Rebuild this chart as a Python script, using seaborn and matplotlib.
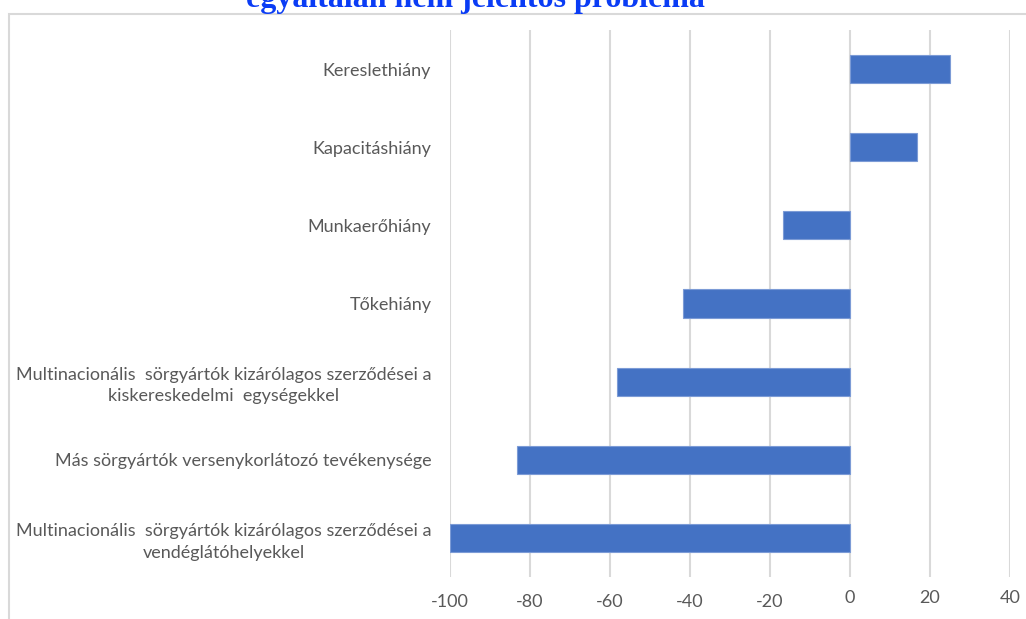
import numpy as np
import pandas as pd
import seaborn as sns
import matplotlib.pyplot as plt
from matplotlib.patches import Rectangle

categories = [
    "Kereslethiány",
    "Kapacitáshiány",
    "Munkaerőhiány",
    "Tőkehiány",
    "Multinacionális  sörgyártók kizárólagos szerződései a\nkiskereskedelmi  egységekkel",
    "Más sörgyártók versenykorlátozó tevékenysége",
    "Multinacionális  sörgyártók kizárólagos szerződései a\nvendéglátóhelyekkel",
]
values = [25.0, 16.7, -16.7, -41.7, -58.3, -83.3, -100.0]
xticks = [-100, -80, -60, -40, -20, 0, 20, 40]
title = "egyáltalán nem jelentős probléma"


def main():
    df = pd.DataFrame({"cat": categories, "val": values})

    sns.set_theme(style="white")
    plt.rcParams["font.family"] = ["Lato", "DejaVu Sans"]

    fig = plt.figure(figsize=(10.26, 6.19), dpi=100)
    W, H = 1026, 619
    ax = fig.add_axes([450 / W, 1 - 577 / H, (1010 - 450) / W, (577 - 30) / H])

    sns.barplot(data=df, x="val", y="cat", orient="h", color="#4472C4",
                saturation=1, width=0.36, edgecolor="#7c9bd6", linewidth=0.8,
                ax=ax, zorder=3)

    ax.set_xlim(-100, 40)
    ax.set_ylim(6.5, -0.5)
    ax.set_xticks(xticks)
    ax.set_xticklabels([str(t) for t in xticks])
    ax.xaxis.grid(True, color="#d9d9d9", linewidth=1.5, zorder=0)
    ax.set_axisbelow(True)
    for s in ax.spines.values():
        s.set_visible(False)
    ax.set_xlabel("")
    ax.set_ylabel("")
    ax.tick_params(axis="both", length=0)
    ax.tick_params(axis="y", pad=13.5, labelsize=13, labelcolor="#595959")
    ax.tick_params(axis="x", labelsize=13, labelcolor="#595959")
    for lbl in ax.get_yticklabels():
        lbl.set_multialignment("center")
        lbl.set_linespacing(1.4)
    for tick, t in zip(ax.xaxis.get_major_ticks(), xticks):
        tick.set_pad(12 if t < 0 else 9.5)

    # outer chart border (only left and top visible)
    fig.patches.append(Rectangle((9 / W, -0.05), 1.1, 1 - 14 / H + 0.05,
                                 transform=fig.transFigure, fill=False,
                                 edgecolor="#d9d9d9", linewidth=1.5))

    fig.text(475 / W, 1 - 7.5 / H, title, ha="center", va="baseline",
             fontfamily="Liberation Serif", fontweight="bold", fontsize=23,
             color="#0A3CF5")

    fig.savefig("out.png", dpi=100)


if __name__ == "__main__":
    main()
